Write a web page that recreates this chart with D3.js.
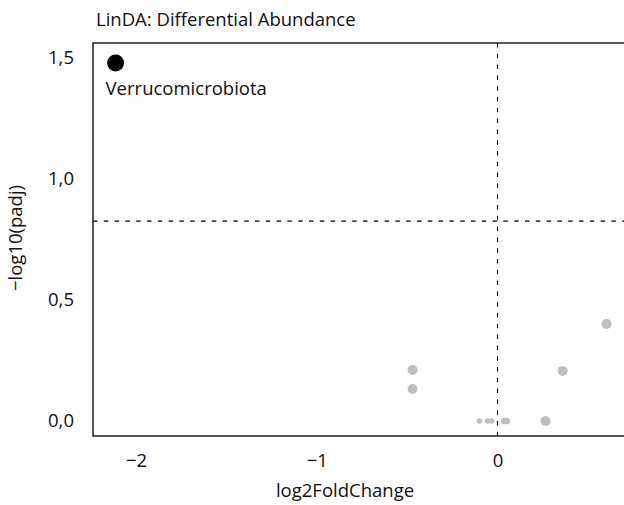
<!DOCTYPE html>
<html>
<head>
<meta charset="utf-8">
<script src="https://cdn.jsdelivr.net/npm/d3@7"></script>
<style>
  body { margin: 0; background: #fff; }
  text { font-family: "Open Sans", sans-serif; fill: #111; }
</style>
</head>
<body>
<div id="chart"></div>
<script>
// values
var taxa = ["Verrucomicrobiota", "t2", "t3", "t4", "t5", "t6", "t7", "t8", "t9", "t10", "t11"];
var log2fc = [-2.113, -0.470, -0.470, 0.360, 0.266, 0.603, -0.100, -0.055, -0.033, 0.037, 0.051];
var negLogPadj = [1.479, 0.211, 0.132, 0.207, 0.0, 0.401, 0.0, 0.0, 0.0, 0.0, 0.0];
var pointSize = [8.5, 5, 5, 5, 5, 5, 2.7, 2.7, 2.7, 3.3, 3.3];
var significant = [true, false, false, false, false, false, false, false, false, false, false];
var xTicks = [-2, -1, 0];
var yTicks = [0, 0.5, 1, 1.5];
var padjLine = 0.826;
var fcLine = 0;

var margin = { top: 43, left: 93 },
  width = 560,
  height = 436 - margin.top;

var x = d3.scaleLinear()
  .domain([-2.238, -2.238 + width / 180.75])
  .range([0, width]);

var y = d3.scaleLinear()
  .domain([-0.062, 1.562])
  .range([height, 0]);

var fmt = function(d) { return d3.format(".1f")(d).replace(".", ","); };

var svg = d3.select("#chart").append("svg")
  .attr("width", 624)
  .attr("height", 505);

svg.append("text")
  .attr("x", 96)
  .attr("y", 26)
  .style("font-size", "18.5px")
  .text("LinDA: Differential Abundance");

var g = svg.append("g")
  .attr("transform", "translate(" + margin.left + "," + margin.top + ")");

// threshold lines
g.append("line")
  .attr("x1", 0).attr("x2", width)
  .attr("y1", y(padjLine)).attr("y2", y(padjLine))
  .style("stroke", "#000").style("stroke-width", 1.1)
  .style("stroke-dasharray", "4.5,6.3");

g.append("line")
  .attr("x1", x(fcLine)).attr("x2", x(fcLine))
  .attr("y1", 0).attr("y2", height)
  .style("stroke", "#000").style("stroke-width", 1.1)
  .style("stroke-dasharray", "4.5,6.3");

// frame
g.append("rect")
  .attr("width", width).attr("height", height)
  .style("fill", "none").style("stroke", "#111").style("stroke-width", 1.4);

var xAxis = d3.axisBottom(x).tickValues(xTicks).tickSize(0).tickPadding(18)
  .tickFormat(function(d) { return d3.format("d")(d).replace("-", "\u2212"); });
var yAxis = d3.axisLeft(y).tickValues(yTicks).tickSize(0).tickPadding(19).tickFormat(fmt);

g.append("g")
  .attr("class", "x axis")
  .attr("transform", "translate(0," + height + ")")
  .call(xAxis)
  .call(function(s) { s.select(".domain").remove(); });

g.append("g")
  .attr("class", "y axis")
  .call(yAxis)
  .call(function(s) { s.select(".domain").remove(); });

g.selectAll(".axis text")
  .style("font-family", "Open Sans, sans-serif")
  .style("font-size", "18.5px")
  .style("fill", "#111");

svg.append("text")
  .attr("x", 345)
  .attr("y", 497)
  .attr("text-anchor", "middle")
  .style("font-size", "18.5px")
  .text("log2FoldChange");

svg.append("text")
  .attr("transform", "translate(22,238) rotate(-90)")
  .attr("text-anchor", "middle")
  .style("font-size", "18.5px")
  .text("\u2212log10(padj)");

var idx = d3.range(taxa.length);

g.selectAll(".dot")
  .data(idx)
  .enter().append("circle")
  .attr("class", "dot")
  .attr("cx", function(i) { return x(log2fc[i]); })
  .attr("cy", function(i) { return y(negLogPadj[i]); })
  .attr("r", function(i) { return pointSize[i]; })
  .style("fill", function(i) { return significant[i] ? "#000" : "#bebebe"; });

g.selectAll(".lab")
  .data(idx.filter(function(i) { return significant[i]; }))
  .enter().append("text")
  .attr("class", "lab")
  .attr("x", function(i) { return x(log2fc[i]) - 10; })
  .attr("y", function(i) { return y(negLogPadj[i]) + 32; })
  .style("font-size", "18.5px")
  .text(function(i) { return taxa[i]; });
</script>
</body>
</html>
